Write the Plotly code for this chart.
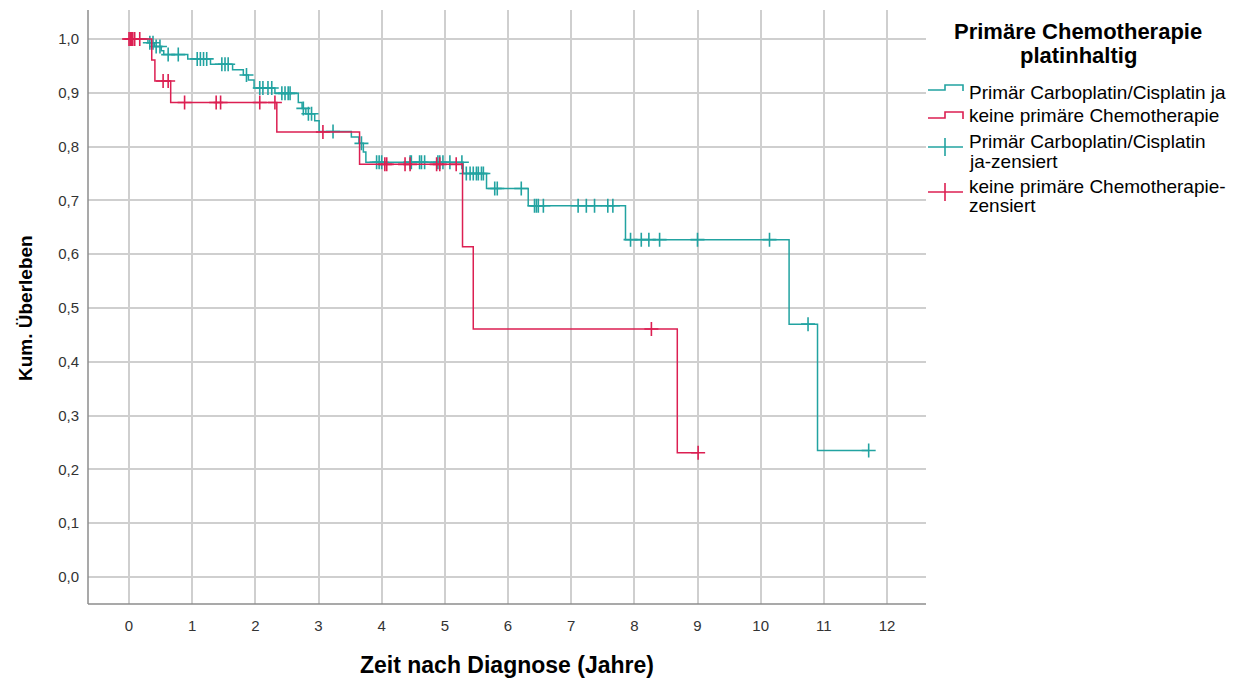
import plotly.graph_objects as go

# Kaplan-Meier step data: event times (years) and survival after each step
carbo_times = [0.0, 0.30, 0.40, 0.51, 0.55, 0.93, 1.29, 1.64, 1.81, 1.89, 1.98, 2.31,
               2.68, 2.74, 2.80, 2.94, 3.01, 3.52, 3.64, 3.71, 3.75, 5.29, 5.66, 6.32,
               7.86, 10.45, 10.90]
carbo_surv = [1.0, 0.993, 0.986, 0.978, 0.971, 0.963, 0.953, 0.943, 0.933, 0.924, 0.909, 0.899,
              0.882, 0.871, 0.861, 0.848, 0.828, 0.818, 0.806, 0.790, 0.771, 0.750, 0.722, 0.690,
              0.627, 0.470, 0.235]
carbo_end = 11.71
carbo_censored = [0.33, 0.38, 0.43, 0.49, 0.62, 0.78, 1.08, 1.13, 1.18, 1.23, 1.47, 1.52, 1.57,
                  1.86, 2.07, 2.12, 2.20, 2.26, 2.42, 2.47, 2.52, 2.55, 2.76, 2.84, 2.89, 3.23,
                  3.68, 3.92, 3.96, 4.00, 4.45, 4.47, 4.60, 4.63, 4.68, 4.89, 4.92, 4.97, 5.08,
                  5.27, 5.34, 5.40, 5.45, 5.50, 5.53, 5.58, 5.61, 5.79, 5.83, 6.21, 6.42, 6.45,
                  6.48, 6.56, 7.11, 7.24, 7.37, 7.58, 7.66, 7.94, 8.11, 8.23, 8.40, 9.00, 10.14,
                  10.75, 11.71]

none_times = [0.0, 0.36, 0.41, 0.66, 2.34, 3.65, 5.28, 5.45, 8.68]
none_surv = [1.0, 0.961, 0.922, 0.882, 0.827, 0.767, 0.614, 0.461, 0.231]
none_end = 9.01
none_censored = [0.0, 0.02, 0.04, 0.06, 0.09, 0.17, 0.54, 0.62, 0.88, 1.38, 1.45, 2.07, 2.31,
                 3.07, 4.05, 4.08, 4.37, 4.45, 4.87, 4.92, 5.18, 8.27, 9.01]

x_ticks = list(range(0, 13))
y_ticks = [round(i / 10, 1) for i in range(0, 11)]

legend_title = ["Primäre Chemotherapie", "platinhaltig"]
legend_labels = [
    ["Primär Carboplatin/Cisplatin ja"],
    ["keine primäre Chemotherapie"],
    ["Primär Carboplatin/Cisplatin", "ja-zensiert"],
    ["keine primäre Chemotherapie-", "zensiert"],
]

TEAL = "#22a3a1"
RED = "#dc1f52"
FONT = "Liberation Sans, Arial, sans-serif"

W, H = 1238, 680
L, R, T, B = 88, 926, 10, 604   # plot area in pixels


def surv_at(times, surv, t):
    s = surv[0]
    for ti, si in zip(times, surv):
        if ti <= t:
            s = si
    return s


def px(xp):
    return (xp - L) / (R - L)


def py(yp):
    return (B - yp) / (B - T)


fig = go.Figure()

for times, surv, end, cens, color in [
    (carbo_times, carbo_surv, carbo_end, carbo_censored, TEAL),
    (none_times, none_surv, none_end, none_censored, RED),
]:
    fig.add_trace(go.Scatter(
        x=times + [end], y=surv + [surv[-1]],
        mode="lines", line=dict(color=color, width=1.5, shape="hv"),
        showlegend=False, hoverinfo="skip",
    ))
    fig.add_trace(go.Scatter(
        x=cens, y=[surv_at(times, surv, c) for c in cens],
        mode="markers",
        marker=dict(symbol="cross-thin", size=10, line=dict(color=color, width=1.6)),
        showlegend=False, hoverinfo="skip",
    ))

shapes = []
# legend glyphs: step icons and censor crosses
for ylow, yhigh, color in [(90, 85, TEAL), (118, 112, RED)]:
    path = (f"M {px(928)},{py(ylow)} L {px(945)},{py(ylow)} L {px(945)},{py(yhigh)} "
            f"L {px(963)},{py(yhigh)} L {px(963)},{py(ylow + 1)}")
    shapes.append(dict(type="path", xref="paper", yref="paper", path=path,
                       line=dict(color=color, width=1.6)))
for yc, color in [(147, TEAL), (192, RED)]:
    shapes.append(dict(type="line", xref="paper", yref="paper",
                       x0=px(928), x1=px(963), y0=py(yc), y1=py(yc),
                       line=dict(color=color, width=1.6)))
    shapes.append(dict(type="line", xref="paper", yref="paper",
                       x0=px(945), x1=px(945), y0=py(yc - 9), y1=py(yc + 9),
                       line=dict(color=color, width=1.6)))
# axis lines
shapes.append(dict(type="line", xref="paper", yref="paper", x0=0, x1=0, y0=0, y1=1,
                   line=dict(color="#8c8c8c", width=1.5), layer="above"))
shapes.append(dict(type="line", xref="paper", yref="paper", x0=0, x1=1, y0=0, y1=0,
                   line=dict(color="#8c8c8c", width=1.5), layer="above"))

annotations = []
for text, yc in zip(legend_title, [31, 56]):
    annotations.append(dict(text=f"<b>{text}</b>", xref="paper", yref="paper",
                            x=px(1078), y=py(yc), xanchor="center", yanchor="middle",
                            showarrow=False, font=dict(family=FONT, size=22, color="#000")))
label_y = [[92], [116], [141, 161], [186, 205]]
for lines, ys in zip(legend_labels, label_y):
    for text, yc in zip(lines, ys):
        annotations.append(dict(text=text, xref="paper", yref="paper",
                                x=px(967), y=py(yc), xanchor="left", yanchor="middle",
                                showarrow=False, font=dict(family=FONT, size=19, color="#000")))
annotations.append(dict(text="<b>Zeit nach Diagnose (Jahre)</b>", xref="paper", yref="paper",
                        x=px(507), y=py(665), xanchor="center", yanchor="middle",
                        showarrow=False, font=dict(family=FONT, size=23, color="#000")))
annotations.append(dict(text="<b>Kum. Überleben</b>", xref="paper", yref="paper",
                        x=px(25), y=py(308), xanchor="center", yanchor="middle", textangle=-90,
                        showarrow=False, font=dict(family=FONT, size=19, color="#000")))

x_scale = (887 - 129) / 12.0
y_scale = (577 - 39) / 1.0

fig.update_layout(
    width=W, height=H,
    margin=dict(l=L, r=W - R, t=T, b=H - B, pad=0),
    paper_bgcolor="white", plot_bgcolor="white",
    separators=",.",
    shapes=shapes, annotations=annotations,
    xaxis=dict(
        range=[(L - 129) / x_scale, (R - 129) / x_scale],
        tickvals=x_ticks, ticktext=[str(v) for v in x_ticks],
        showgrid=True, gridcolor="#cfcfcf", gridwidth=1.8,
        zeroline=False, showline=False, ticks="",
        tickfont=dict(family=FONT, size=15, color="#333"),
        ticklabelstandoff=11,
    ),
    yaxis=dict(
        range=[(577 - B) / y_scale, (577 - T) / y_scale],
        tickvals=y_ticks, tickformat=".1f",
        showgrid=True, gridcolor="#cfcfcf", gridwidth=1.8,
        zeroline=False, showline=False, ticks="",
        tickfont=dict(family=FONT, size=15, color="#333"),
        ticklabelstandoff=8,
    ),
)

fig.write_html("out.html")
